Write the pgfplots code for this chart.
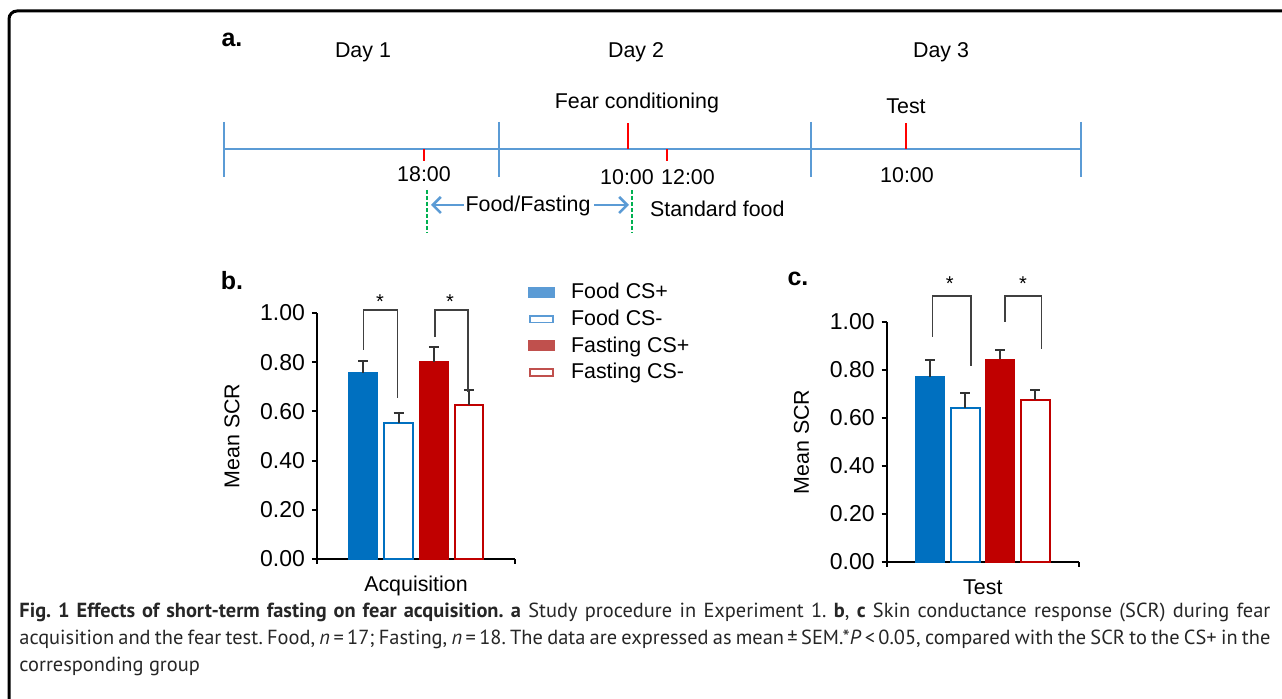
\documentclass[border=0pt]{standalone}
\usepackage{fontspec}
\setmainfont{Liberation Sans}
\newfontfamily\capfont{PT Sans}
\usepackage{pgfplots}
\pgfplotsset{compat=1.18}
\usetikzlibrary{arrows.meta}
\frenchspacing

\definecolor{foodblue}{HTML}{0070C0}
\definecolor{fastred}{HTML}{C00000}
\definecolor{legblue}{HTML}{5B9BD5}
\definecolor{legred}{HTML}{C0504D}
\definecolor{lineblue}{HTML}{5B9BD5}
\definecolor{tickred}{HTML}{FF0000}
\definecolor{dashgreen}{HTML}{00B050}
\definecolor{errgray}{HTML}{333333}

\tikzset{bracket/.style={draw=black!75, line width=0.7pt}}

\pgfplotsset{
  scrbars/.style={
    scale only axis,
    ymin=0, ymax=1,
    ytick={0,0.2,0.4,0.6,0.8,1},
    axis lines*=left,
    axis line style={line width=1pt, black},
    tick style={line width=1pt, black},
    major tick length=2.5pt,
    tick align=outside,
    xticklabels={,,},
    yticklabel style={/pgf/number format/.cd, fixed, fixed zerofill, precision=2, assume math mode=true},
    tick label style={font=\fontsize{11.5}{13}\selectfont},
    label style={font=\fontsize{10.7}{13}\selectfont},
    ybar, bar shift=0pt, bar width=0.82,
    clip=false,
    error bars/y dir=plus, error bars/y explicit,
    error bars/error bar style={line width=1pt, errgray},
    error bars/error mark options={rotate=90, line width=1pt, errgray, mark size=2.5pt},
  },
  filled/.style={fill=#1, draw=#1, line width=0.6pt},
  hollow/.style={fill=white, draw=#1, line width=1pt},
  legfill/.style={legend image code/.code={\draw[fill=#1, draw=#1] (0pt,-2.5pt) rectangle (12.5pt,2.5pt);
    \path (19pt,0pt);}},
  leghollow/.style={legend image code/.code={\draw[fill=white, draw=#1, line width=0.9pt] (0.4pt,-1.7pt) rectangle (12.1pt,1.7pt);
    \path (19pt,0pt);}},
}

\begin{document}
\begin{tikzpicture}
\begin{scope}[x=0.5pt,y=-0.5pt]
\useasboundingbox (0,0) rectangle (1282,699);
% frame
\draw[line width=1.5pt, rounded corners=4pt] (9,712) -- (9,11) -- (1295,11);

% panel a: timeline
\node[font=\fontsize{12.5}{14}\selectfont\bfseries] at (232,40) {a.};
\begin{scope}[font=\fontsize{10.7}{13}\selectfont]
\node at (363,52) {Day 1};
\node at (636,52) {Day 2};
\node at (941,52) {Day 3};
\node at (637,103) {Fear conditioning};
\node at (906,106) {Test};
\node at (424,174) {18:00};
\node at (627,177) {10:00};
\node at (688,177) {12:00};
\node at (907,175) {10:00};
\node at (528,206) {Food/Fasting};
\node[anchor=west] at (643,209) {Standard food};
\end{scope}
\draw[lineblue, line width=1.2pt] (224,149) -- (1081,149);
\foreach \tx in {224,499,811,1081}
  \draw[lineblue, line width=1.2pt] (\tx,122) -- (\tx,177);
\draw[tickred, line width=1.2pt] (424,149) -- (424,161);
\draw[tickred, line width=1.2pt] (628,149) -- (628,123);
\draw[tickred, line width=1.2pt] (667,149) -- (667,161);
\draw[tickred, line width=1.2pt] (906,149) -- (906,123);
\draw[dashgreen, line width=1.2pt, dash pattern=on 2pt off 1pt] (427,190) -- (427,233);
\draw[dashgreen, line width=1.2pt, dash pattern=on 2pt off 1pt] (632,190) -- (632,233);
\draw[lineblue, line width=1.3pt, {Straight Barb[length=4pt,width=8pt]}-] (431,205) -- (464,205);
\draw[lineblue, line width=1.3pt, -{Straight Barb[length=4pt,width=8pt]}] (594,205) -- (629,205);

% panel labels
\node[font=\fontsize{12.5}{14}\selectfont\bfseries] at (232,281) {b.};
\node[font=\fontsize{12.5}{14}\selectfont\bfseries] at (798,279) {c.};

\coordinate (bO) at (317,559);
\coordinate (cO) at (886.7,562);

% caption
\node[anchor=north west, inner sep=0pt, text width=625.5pt, align=justify,
      font=\capfont\fontsize{10.2}{13.5}\selectfont, text=black!85] at (19,603)
{\frenchspacing\textbf{Fig. 1 Effects of short-term fasting on fear acquisition.} \textbf{a} Study procedure in Experiment 1. \textbf{b}, \textbf{c} Skin conductance response (SCR) during fear\linebreak
acquisition and the fear test. Food, \textit{n}\,=\,17; Fasting, \textit{n}\,=\,18. The data are expressed as mean\,±\,SEM.*\textit{P}\,<\,0.05, compared with the SCR to the CS+ in the\linebreak
corresponding group};
\end{scope}

% panel b
\begin{axis}[scrbars, at={(bO)}, anchor=south west, width=99pt, height=123pt,
  xmin=-0.32, xmax=5.31, xtick={-0.32,5.31},
  xlabel={Acquisition}, ylabel={Mean SCR},
  xlabel style={at={(axis description cs:0.5,-0.108)}, anchor=center},
  ylabel style={at={(axis description cs:-0.429,0.5)}, anchor=center},
  legend style={at={(axis description cs:1.066,1.135)}, anchor=north west, draw=none, fill=none,
    inner sep=0pt, font=\fontsize{10.7}{12}\selectfont, row sep=1.1pt,
    nodes={inner sep=1.5pt}},
  legend cell align=left]
\addplot[filled=foodblue, legfill=legblue] coordinates {(1,0.757) +- (0,0.048)};
\addlegendentry{Food CS+}
\addplot[hollow=foodblue, leghollow=legblue] coordinates {(2,0.551) +- (0,0.041)};
\addlegendentry{Food CS-}
\addplot[filled=fastred, legfill=legred] coordinates {(3,0.802) +- (0,0.058)};
\addlegendentry{Fasting CS+}
\addplot[hollow=fastred, leghollow=legred] coordinates {(4,0.626) +- (0,0.061)};
\addlegendentry{Fasting CS-}
\draw[bracket] (axis cs:1.01,0.85) -- (axis cs:1.01,1.012) -- (axis cs:1.97,1.012) -- (axis cs:1.97,0.654);
\draw[bracket] (axis cs:3.03,0.902) -- (axis cs:3.03,1.012) -- (axis cs:3.97,1.012) -- (axis cs:3.97,0.679);
\node[font=\fontsize{10}{12}\selectfont] at (axis cs:1.47,1.045) {*};
\node[font=\fontsize{10}{12}\selectfont] at (axis cs:3.46,1.045) {*};
\end{axis}

% panel c
\begin{axis}[scrbars, at={(cO)}, anchor=south west, width=96.15pt, height=120pt,
  xmin=-0.245, xmax=5.25, xtick={-0.245,5.25},
  xlabel={Test}, ylabel={Mean SCR},
  xlabel style={at={(axis description cs:0.5,-0.104)}, anchor=center},
  ylabel style={at={(axis description cs:-0.443,0.5)}, anchor=center}]
\addplot[filled=foodblue] coordinates {(1,0.772) +- (0,0.070)};
\addplot[hollow=foodblue] coordinates {(2,0.640) +- (0,0.063)};
\addplot[filled=fastred] coordinates {(3,0.845) +- (0,0.038)};
\addplot[hollow=fastred] coordinates {(4,0.675) +- (0,0.042)};
\draw[bracket] (axis cs:1.07,0.939) -- (axis cs:1.07,1.108) -- (axis cs:2.16,1.108) -- (axis cs:2.16,0.817);
\draw[bracket] (axis cs:3.13,1.0) -- (axis cs:3.13,1.108) -- (axis cs:4.18,1.108) -- (axis cs:4.18,0.8875);
\node[font=\fontsize{10}{12}\selectfont] at (axis cs:1.56,1.16) {*};
\node[font=\fontsize{10}{12}\selectfont] at (axis cs:3.65,1.16) {*};
\end{axis}
\end{tikzpicture}
\end{document}
